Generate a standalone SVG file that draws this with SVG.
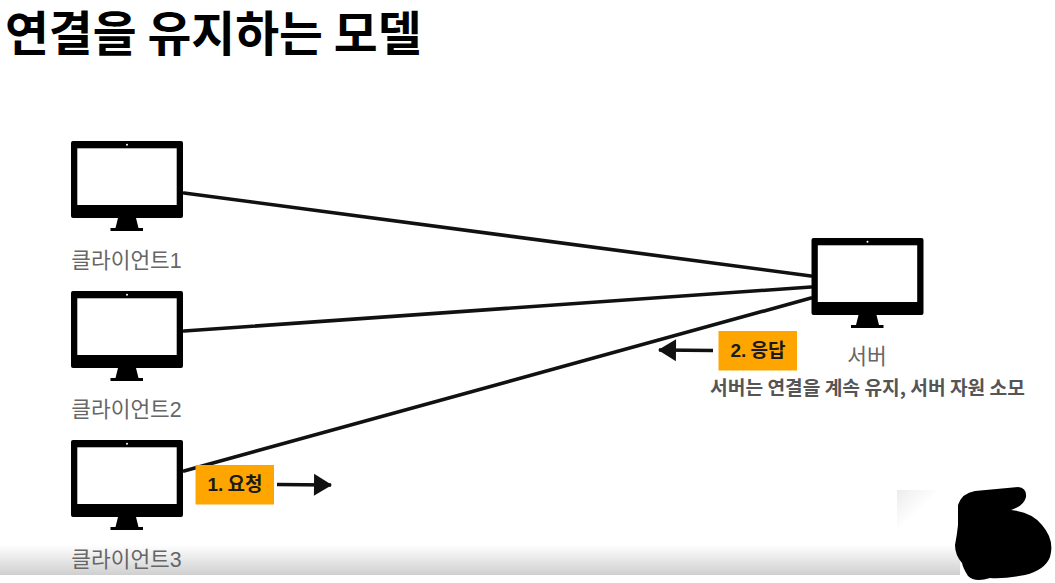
<svg xmlns="http://www.w3.org/2000/svg" width="1055" height="583" viewBox="0 0 1055 583">
<style>
text{font-family:"Noto Sans CJK KR","Liberation Sans",sans-serif}
.num{font-family:"Liberation Sans","Noto Sans CJK KR",sans-serif}
.label{font-size:21.400px;fill:#666;text-anchor:middle}
.tag{fill:#ffa500}
.tagt{font-size:19px;font-weight:700;fill:#1a1a1a;text-anchor:middle}
.link{stroke:#111;stroke-width:3.600;fill:none;stroke-linecap:round}
.arrow{stroke:#111;stroke-width:3.400;fill:none;marker-end:url(#ah)}
</style>
<defs>
<marker id="ah" markerUnits="userSpaceOnUse" markerWidth="20" markerHeight="24" refX="18" refY="12" orient="auto"><path d="M1 1L19 12L1 23Z" fill="#111"/></marker>
<linearGradient id="band" x1="0" y1="0" x2="0" y2="1"><stop offset="0" stop-color="#fff"/><stop offset="1" stop-color="#cfcfcf"/></linearGradient>
<linearGradient id="patch" x1="0" y1="0" x2="1" y2="1"><stop offset="0" stop-color="#ececec"/><stop offset=".35" stop-color="#fff"/></linearGradient>
<g id="mon">
<rect x="0" y="0" width="112" height="77" rx="2" fill="#000"/>
<rect x="6.300" y="7.300" width="99.400" height="56.700" fill="#fff"/>
<circle cx="56" cy="3.700" r="1" fill="#fff"/>
<path d="M47 77H65L67.500 87H72V90H39.500V87H44.500Z" fill="#000"/>
</g>
</defs>
<rect width="1055" height="583" fill="#fff"/>
<rect x="0" y="545" width="960" height="30" fill="url(#band)"/>
<rect x="897" y="490" width="63" height="60" fill="url(#patch)"/>
<rect x="897" y="545" width="63" height="30" fill="url(#band)"/>
<text x="5" y="51" font-size="47.700" font-weight="700" fill="#000">연결을 유지하는 모델</text>
<g id="connectors">
<path class="link" d="M184 193L811 276"/>
<path class="link" d="M184 331L811 287"/>
<path class="link" d="M184 471L811 298"/>
<path class="arrow" d="M277 484.500L331 485"/>
<path class="arrow" d="M713 350.500L659 350"/>
</g>
<g id="client1"><use href="#mon" x="71" y="141"/><text class="label" x="126.500" y="268">클라이언트<tspan class="num">1</tspan></text></g>
<g id="client2"><use href="#mon" x="71" y="291"/><text class="label" x="126.500" y="417">클라이언트<tspan class="num">2</tspan></text></g>
<g id="client3"><use href="#mon" x="71" y="440"/><text class="label" x="126.500" y="567">클라이언트<tspan class="num">3</tspan></text></g>
<g id="server"><use href="#mon" x="811.500" y="238"/><text class="label" x="867" y="364">서버</text>
<text x="867.500" y="395" font-size="19.200" font-weight="700" fill="#555" text-anchor="middle">서버는 연결을 계속 유지, 서버 자원 소모</text></g>
<g id="req"><rect class="tag" x="195.500" y="465" width="78.500" height="39.500"/><text class="tagt" x="235" y="491"><tspan class="num">1.</tspan> 요청</text></g>
<g id="res"><rect class="tag" x="718.500" y="331" width="78.500" height="39.500"/><text class="tagt" x="758" y="357"><tspan class="num">2.</tspan> 응답</text></g>
<path id="blob" fill="#000" d="M958 505Q962 493 975 491L1018 487Q1027 488 1026 497Q1024 506 1011 510Q1032 512 1042 525Q1055 540 1050 557Q1045 570 1025 575Q1005 579 990 578Q975 583 968 576Q963 568 962 563Q955 555 955 545Q957 535 958 525Z"/>
</svg>
